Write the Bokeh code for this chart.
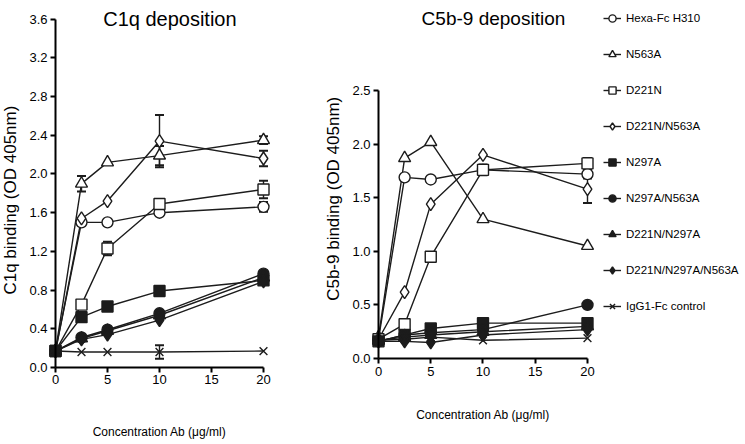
from math import pi
from bokeh.plotting import figure
from bokeh.models import (ColumnDataSource, Range1d, LinearAxis, FixedTicker,
                          NumeralTickFormatter, Whisker, TeeHead, Legend, LegendItem, Label)
from bokeh.layouts import row
from bokeh.embed import file_html
from bokeh.resources import INLINE

# ---------------- data ----------------
conc = [0, 2.5, 5, 10, 20]
names = ["Hexa-Fc H310", "N563A", "D221N", "D221N/N563A", "N297A",
         "N297A/N563A", "D221N/N297A", "D221N/N297A/N563A", "IgG1-Fc control"]

# C1q deposition (OD 405nm)
c1q_hexa = [0.17, 1.50, 1.50, 1.60, 1.66]
c1q_n563a = [0.17, 1.90, 2.12, 2.19, 2.35]
c1q_d221n = [0.17, 0.65, 1.23, 1.69, 1.84]
c1q_d221n_n563a = [0.17, 1.54, 1.72, 2.34, 2.16]
c1q_n297a = [0.17, 0.52, 0.63, 0.79, 0.90]
c1q_n297a_n563a = [0.17, 0.31, 0.39, 0.56, 0.97]
c1q_d221n_n297a = [0.17, 0.30, 0.38, 0.54, 0.93]
c1q_d221n_n297a_n563a = [0.17, 0.29, 0.34, 0.49, 0.89]
c1q_igg1 = [0.17, 0.16, 0.16, 0.16, 0.17]

c1q_err_hexa = [0, 0, 0, 0.03, 0.05]
c1q_err_n563a = [0, 0.08, 0, 0.10, 0.04]
c1q_err_d221n = [0, 0.03, 0.07, 0.03, 0.09]
c1q_err_d221n_n563a = [0, 0, 0, 0.27, 0.08]
c1q_err_igg1 = [0, 0, 0, 0.07, 0]
zero_err = [0, 0, 0, 0, 0]

# C5b-9 deposition (OD 405nm)
c5_hexa = [0.18, 1.69, 1.67, 1.76, 1.72]
c5_n563a = [0.20, 1.87, 2.02, 1.30, 1.05]
c5_d221n = [0.18, 0.32, 0.95, 1.76, 1.82]
c5_d221n_n563a = [0.18, 0.62, 1.44, 1.90, 1.58]
c5_n297a = [0.16, 0.22, 0.28, 0.33, 0.33]
c5_n297a_n563a = [0.16, 0.22, 0.24, 0.27, 0.50]
c5_d221n_n297a = [0.17, 0.20, 0.22, 0.25, 0.30]
c5_d221n_n297a_n563a = [0.16, 0.16, 0.15, 0.22, 0.27]
c5_igg1 = [0.17, 0.18, 0.20, 0.17, 0.19]

c5_err_hexa = [0, 0, 0, 0, 0.04]
c5_err_d221n = [0, 0, 0, 0.05, 0.05]
c5_err_d221n_n563a = [0, 0, 0, 0, 0.13]

x_ticks = [0, 5, 10, 15, 20]
c1q_ticks = [0.0, 0.4, 0.8, 1.2, 1.6, 2.0, 2.4, 2.8, 3.2, 3.6]
c5_ticks = [0.0, 0.5, 1.0, 1.5, 2.0, 2.5]

c1q_data = [c1q_hexa, c1q_n563a, c1q_d221n, c1q_d221n_n563a, c1q_n297a,
            c1q_n297a_n563a, c1q_d221n_n297a, c1q_d221n_n297a_n563a, c1q_igg1]
c1q_errs = [c1q_err_hexa, c1q_err_n563a, c1q_err_d221n, c1q_err_d221n_n563a,
            zero_err, zero_err, zero_err, zero_err, c1q_err_igg1]
c5_data = [c5_hexa, c5_n563a, c5_d221n, c5_d221n_n563a, c5_n297a,
           c5_n297a_n563a, c5_d221n_n297a, c5_d221n_n297a_n563a, c5_igg1]
c5_errs = [c5_err_hexa, zero_err, c5_err_d221n, c5_err_d221n_n563a,
           zero_err, zero_err, zero_err, zero_err, zero_err]

# ---------------- styles ----------------
markers = ["circle", "triangle", "square", "diamond", "square",
           "circle", "triangle", "diamond", "x"]
filled = [False, False, False, False, True, True, True, True, False]
msizes = [11, 12, 11, 13, 11, 11, 12, 13, 11]

FONT = "Liberation Sans"
INK = "#1c1c1c"


def make_fig(w, xr, yr):
    p = figure(width=w, height=444,
               x_range=Range1d(*xr), y_range=Range1d(*yr),
               x_axis_type=None, y_axis_type=None,
               output_backend="svg", toolbar_location=None,
               min_border=0, min_border_left=0, min_border_right=0,
               min_border_top=0, min_border_bottom=0)
    p.outline_line_color = None
    p.background_fill_color = "white"
    return p


def add_axes(p, yticks, ybounds):
    xa = LinearAxis(fixed_location=0, bounds=(0, 20),
                    ticker=FixedTicker(ticks=x_ticks))
    ya = LinearAxis(fixed_location=0, bounds=ybounds,
                    ticker=FixedTicker(ticks=yticks),
                    formatter=NumeralTickFormatter(format="0.0"))
    for ax in (xa, ya):
        ax.axis_line_width = 2
        ax.axis_line_color = "black"
        ax.major_tick_line_width = 2
        ax.major_tick_line_color = "black"
        ax.major_tick_out = 5
        ax.major_tick_in = 0
        ax.minor_tick_out = 0
        ax.minor_tick_in = 0
        ax.major_label_text_font = FONT
        ax.major_label_text_font_size = "13px"
        ax.major_label_text_color = "black"
        ax.major_label_standoff = 3
    p.add_layout(xa, "below")
    p.add_layout(ya, "left")


def plot_series(p, data, errs):
    lines, dots = [], []
    for vals in data:
        src = ColumnDataSource(dict(x=conc, y=vals))
        lines.append(p.line("x", "y", source=src, line_color=INK, line_width=1.4))
    for vals, err in zip(data, errs):
        xs = [c for c, e in zip(conc, err) if e > 0]
        if not xs:
            continue
        lo = [v - e for v, e in zip(vals, err) if e > 0]
        hi = [v + e for v, e in zip(vals, err) if e > 0]
        wsrc = ColumnDataSource(dict(x=xs, lo=lo, hi=hi))
        w = Whisker(base="x", lower="lo", upper="hi", source=wsrc,
                    line_color=INK, line_width=1.4,
                    upper_head=TeeHead(size=9, line_width=2, line_color=INK),
                    lower_head=TeeHead(size=9, line_width=2, line_color=INK))
        p.add_layout(w)
    for i, vals in enumerate(data):
        src = ColumnDataSource(dict(x=conc, y=vals))
        dots.append(p.scatter("x", "y", source=src, marker=markers[i], size=msizes[i],
                              fill_color=INK if filled[i] else "white",
                              line_color=INK, line_width=1.4))
    return lines, dots


def label(p, x, y, text, size, angle=0.0):
    p.add_layout(Label(x=x, y=y, text=text, text_font=FONT, text_font_size=size,
                       angle=angle, text_align="center", text_baseline="middle",
                       text_color="black"))


# ---------------- left: C1q ----------------
p1 = make_fig(322, (-5.288, 25.673), (-0.796, 3.793))
add_axes(p1, c1q_ticks, (0, 3.6))
plot_series(p1, c1q_data, c1q_errs)
label(p1, 11, 3.6, "C1q deposition", "20px")
label(p1, -4.33, 1.73, "C1q binding (OD 405nm)", "17px", pi / 2)
label(p1, 10, -0.67, "Concentration Ab (\u03bcg/ml)", "12px")

# ---------------- right: C5b-9 ----------------
p2 = make_fig(423, (-5.359, 35.12), (-0.802, 3.3396))
add_axes(p2, c5_ticks, (0, 2.5))
lines2, dots2 = plot_series(p2, c5_data, c5_errs)
label(p2, 11, 3.17, "C5b-9 deposition", "19px")
label(p2, -4.31, 1.49, "C5b-9 binding (OD 405nm)", "17px", pi / 2)
label(p2, 10, -0.53, "Concentration Ab (\u03bcg/ml)", "12px")

items = [LegendItem(label=n, renderers=[l, d]) for n, l, d in zip(names, lines2, dots2)]
leg = Legend(items=items, location=(281, 128), margin=0, padding=0, spacing=16,
             glyph_width=18, glyph_height=20, label_standoff=5,
             label_text_font=FONT, label_text_font_size="11.5px",
             label_text_color="black",
             border_line_color=None, background_fill_alpha=0)
p2.add_layout(leg)

layout = row(p1, p2)
open("out.html", "w").write(file_html(layout, INLINE))
